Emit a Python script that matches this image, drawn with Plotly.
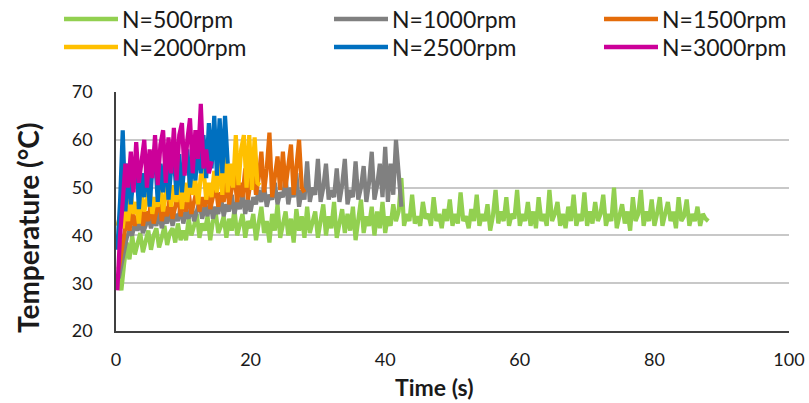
import numpy as np
import plotly.graph_objects as go

# ---------------- data ----------------
series_names = ["N=500rpm", "N=1000rpm", "N=1500rpm", "N=2000rpm", "N=2500rpm", "N=3000rpm"]
series_colors = ["#92D050", "#808080", "#E46C0A", "#FFC000", "#0070C0", "#CC0099"]
time_step = 0.4  # s, sampling interval

t0_500 = 0.4
temp_500 = [
    32, 28.5, 34, 38.5, 35, 40, 36, 38.5, 40.5, 36.5, 39, 41, 37, 40, 41.5, 37.5, 39.5, 42, 38, 40.5, 41.5, 38.5, 42.5, 39, 41,
    39, 43.5, 40, 42, 44.5, 39.5, 42.5, 41, 44, 39, 43, 45, 40.5, 42, 44, 39.5, 43.5, 41, 45.5, 40, 42.5, 44.5, 39.5, 43, 41.5,
    44.5, 39, 42.5, 46, 40.5, 43, 38.5, 44.5, 41, 46.5, 39.5, 42, 45, 40, 43.5, 38.5, 45.5, 41, 44, 39.5, 46, 40.5, 42.5, 45, 39.5,
    43, 46.5, 40, 44, 41.5, 47, 39.5, 43, 45.5, 40.5, 44.5, 41, 46, 39, 43.5, 47.5, 40.5, 44, 42, 46, 40, 45, 41.5, 47, 40.5,
    44, 42, 46.5, 43, 45, 52, 42, 44.5, 43, 48.5, 42.5, 44, 42, 47, 43.5, 44.5, 42, 48, 43, 44.5, 41.5, 45.5, 43, 47.5, 42,
    44.5, 42.5, 49, 43, 44, 41.5, 45.5, 43, 48.5, 42, 44.5, 43, 46.5, 41, 44, 49.5, 42.5, 45, 43, 48, 42, 44.5, 43.5, 49.5, 42,
    44.5, 43, 47, 42, 45, 41.5, 48, 43, 44.5, 42, 49.5, 43, 44.5, 47, 42, 44.5, 41.5, 46, 43, 48.5, 42, 44.5, 43, 49, 42,
    45, 42.5, 47, 43, 44.5, 48.5, 42, 44.5, 43, 50, 41.5, 44, 46.5, 42.5, 45, 41, 48, 43, 44.5, 49.5, 42, 45, 43, 47.5, 42,
    44.5, 48, 42, 44.5, 47, 43, 45, 41.5, 48, 43, 44, 47.5, 42, 44.5, 43, 46, 42, 44.5, 43.5, 43,
]

t0_1000 = 0.4
temp_1000 = [
    31, 34, 37, 39.5, 41, 40, 42.5, 41, 43, 40.5, 42, 44, 41.5, 43.5, 42, 45, 41.5, 44, 42.5, 45.5, 42, 44.5, 43, 46, 42.5,
    45, 43.5, 46.5, 43, 45.5, 47, 43.5, 46, 44, 47.5, 43.5, 46, 44.5, 48, 44, 46.5, 45, 48.5, 44.5, 47, 45.5, 49, 44.5, 47.5, 45,
    48, 46.5, 49.5, 47, 50.5, 46, 48.5, 47.5, 51, 46.5, 49, 48, 52, 46.5, 50, 48, 53, 46, 49.5, 47.5, 55.5, 47, 50, 48.5, 56,
    47, 50, 55, 47.5, 49.5, 48, 54, 47, 50.5, 56, 46.5, 49.5, 48, 55.5, 47.5, 50, 54.5, 47, 51, 57.5, 47.5, 50.5, 55, 48, 58.5,
    47, 55, 48.5, 60, 52, 46,
]

t0_1500 = 0.4
temp_1500 = [
    33, 37, 41, 43.5, 41, 45, 42, 44, 46.5, 42, 45, 43, 47, 42.5, 45.5, 47.5, 43, 46, 44, 48, 43.5, 46.5, 48.5, 44, 47,
    45, 49, 44.5, 47.5, 49.5, 45, 48, 46, 50, 45.5, 48.5, 50.5, 46, 49, 47, 52, 46.5, 50, 53, 47, 51, 48, 54, 47.5, 51,
    55, 48.5, 52, 57.5, 49, 54, 61.5, 48, 53, 56.5, 49.5, 57.5, 50, 55, 59, 48.5, 54, 60, 50, 49,
]

t0_2000 = 0.2
temp_2000 = [
    42, 44, 41.5, 46, 43, 48.5, 44.5, 47, 42.5, 49, 45, 47.5, 50, 44.5, 48, 46, 51, 45, 49, 52, 46, 50.5, 47, 52.5, 45.5,
    51, 47, 53, 48.5, 51.5, 46.5, 52.5, 54, 47.5, 51, 48, 53.5, 49, 56, 48.5, 59.5, 49, 55, 50, 61, 50.5, 58, 61, 50, 61,
    49.5, 60.5, 51, 50.5,
]

t0_2500 = 0.2
temp_2500 = [
    37, 47, 62, 45, 55, 46.5, 52, 56, 45.5, 53, 48, 56.5, 46, 54, 57, 47, 55, 49, 57.5, 47.5, 54, 56, 48.5, 57, 49,
    55.5, 58, 50, 56, 51.5, 59, 53, 61, 52, 63.5, 54, 65, 52.5, 64.5, 53, 65, 55,
]

t0_3000 = 0.2
temp_3000 = [
    28.5, 40, 47, 55, 50, 57.5, 49, 59.5, 51, 56, 60, 50, 58, 52, 61, 50.5, 59, 62, 51, 60.5,
    53, 62.5, 51.5, 61, 63.5, 52.5, 60, 64.5, 53, 62, 56, 67.5, 54, 58, 53, 55.5,
]

x_ticks = [0, 20, 40, 60, 80, 100]
y_ticks = [20, 30, 40, 50, 60, 70]

series_data = [
    (t0_500, temp_500), (t0_1000, temp_1000), (t0_1500, temp_1500),
    (t0_2000, temp_2000), (t0_2500, temp_2500), (t0_3000, temp_3000),
]

# ---------------- figure ----------------
W, H = 809, 403
L, R, T, B = 116, 20, 92, 72
FONT = "Lato"

fig = go.Figure()
for name, color, (t0, vals) in zip(series_names, series_colors, series_data):
    t = t0 + time_step * np.arange(len(vals))
    fig.add_trace(go.Scatter(x=t, y=vals, mode="lines", name=name,
                             line=dict(color=color, width=4.2), showlegend=False))

# pixel -> paper helper for legend and titles
pw, ph = W - L - R, H - T - B
def px2paper(px, py):
    return (px - L) / pw, (H - B - py) / ph

# manual legend (Excel-style long line samples)
legend_cols = [64, 334, 604]
legend_rows = [19, 47]
for i, (name, color) in enumerate(zip(series_names, series_colors)):
    cx = legend_cols[i % 3]
    cy = legend_rows[i // 3]
    x0, y0 = px2paper(cx, cy)
    x1, _ = px2paper(cx + 54, cy)
    fig.add_shape(type="line", xref="paper", yref="paper", x0=x0, x1=x1, y0=y0, y1=y0,
                  line=dict(color=color, width=4.5))
    xt, _ = px2paper(cx + 56, cy)
    fig.add_annotation(xref="paper", yref="paper", x=xt, y=y0, text=name, showarrow=False,
                       xanchor="left", yanchor="middle",
                       font=dict(family=FONT, size=23, color="#1a1a1a"))

# axis titles (placed like the original, slightly off-centre)
yt_x, yt_y = px2paper(28, 228)
fig.add_annotation(xref="paper", yref="paper", x=yt_x, y=yt_y, text="<b>Temperature (°C)</b>",
                   textangle=-90, showarrow=False, xanchor="center", yanchor="middle",
                   font=dict(family=FONT, size=28, color="#1a1a1a"))
xt_x, xt_y = px2paper(434, 387)
fig.add_annotation(xref="paper", yref="paper", x=xt_x, y=xt_y, text="<b>Time (s)</b>",
                   showarrow=False, xanchor="center", yanchor="middle",
                   font=dict(family=FONT, size=23, color="#1a1a1a"))

fig.update_layout(
    width=W, height=H,
    margin=dict(l=L, r=R, t=T, b=B, autoexpand=False),
    paper_bgcolor="white", plot_bgcolor="white",
    showlegend=False,
    font=dict(family=FONT, size=18, color="#1a1a1a"),
)
fig.update_xaxes(
    range=[0, 100], tickvals=x_ticks, showgrid=False, zeroline=False,
    showline=True, linecolor="#404040", linewidth=1.5, ticks="",
    ticklabelstandoff=12, tickfont=dict(size=18),
)
fig.update_yaxes(
    range=[20, 70], tickvals=y_ticks, showgrid=True, gridcolor="#C8C8C8", gridwidth=1.5,
    zeroline=False, showline=True, linecolor="#404040", linewidth=1.5, ticks="",
    ticklabelstandoff=18, tickfont=dict(size=18),
)

# remove the default 8 px page margin so the figure fills the 809x403 window exactly
fig.write_html("out.html", config={"displayModeBar": False},
               post_script="document.body.style.margin='0';")
